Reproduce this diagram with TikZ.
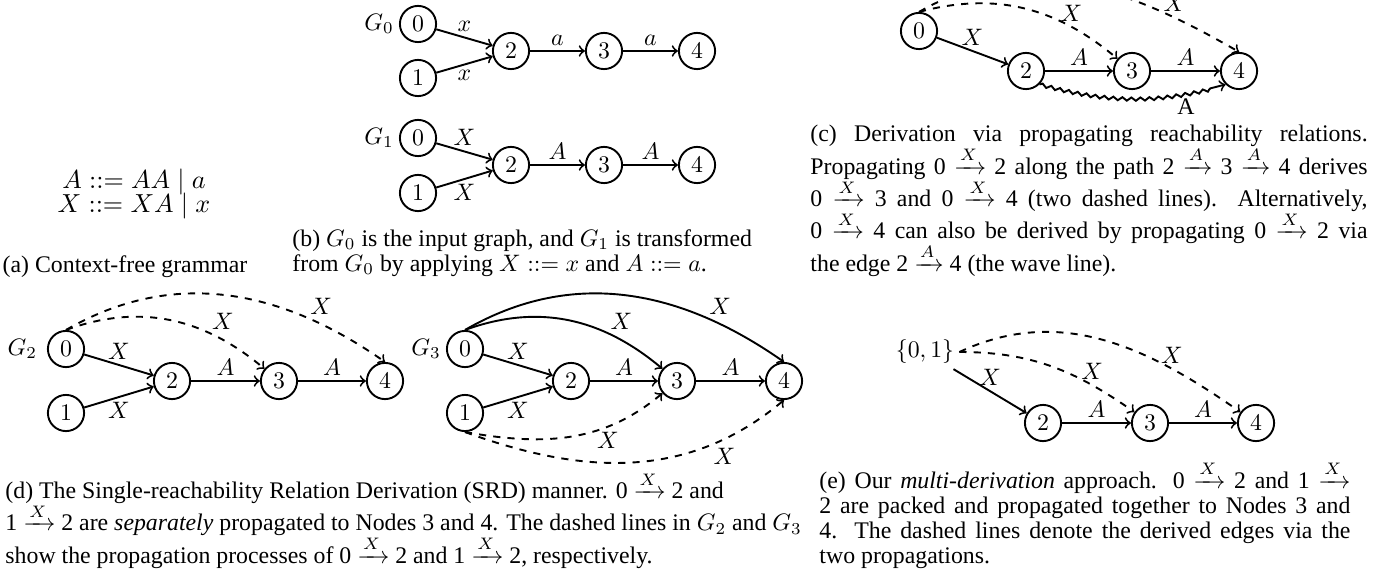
\documentclass[tikz,border=0pt]{standalone}
\usepackage{amsmath}
\usepackage{fontspec}
\setmainfont{Liberation Serif}
\usetikzlibrary{positioning,decorations.pathmorphing}

\newcommand{\capfont}{\fontsize{10}{10.5}\selectfont\setlength{\lineskip}{0pt}}
\newcommand{\gramfont}{\fontsize{10.5}{10.4}\selectfont\setlength{\lineskiplimit}{-10pt}}

\begin{document}
\begin{tikzpicture}[
    x=0.42pt, y=0.42pt,
    state/.style={draw, thick, circle, minimum size=15.2pt, inner sep=0pt},
    edge/.style={->, thick},
    derived/.style={->, thick, dashed},
    wave/.style={->, thick, decorate, decoration={snake, amplitude=0.7pt, segment length=3.8pt, post length=2mm}},
    lab/.style={inner sep=2pt},
    gname/.style={inner sep=1pt},
    subcap/.style={inner sep=0pt, font=\capfont},
]
    \useasboundingbox (0,0) rectangle (1385,-578);
    \clip (0,0) rectangle (1385,-578);

    % --- (a) grammar ---
    \node[align=center, font=\gramfont] (gram) at (134,-194) {$A ::= AA \mid a$\\$X ::= XA \mid x$};
    \node[subcap, anchor=base] (capa) at (125,-272) {(a) Context-free grammar};

    % --- (b) G0 and G1 ---
    \node[state] (u0) at (418,-24) {$0$};
    \node[state] (u1) at (418,-78) {$1$};
    \node[state] (u2) at (511,-51) {$2$};
    \node[state] (u3) at (604,-51) {$3$};
    \node[state] (u4) at (697,-51) {$4$};
    \node[gname, left=1pt of u0] (gu) {$G_0$};

    \draw[edge] (u0) -- (u2) node[midway, above, lab] {$x$};
    \draw[edge] (u1) -- (u2) node[midway, below, lab] {$x$};
    \draw[edge] (u2) -- (u3) node[midway, above, lab] {$a$};
    \draw[edge] (u3) -- (u4) node[midway, above, lab] {$a$};

    \node[state] (v0) at (418,-138) {$0$};
    \node[state] (v1) at (418,-193) {$1$};
    \node[state] (v2) at (511,-165) {$2$};
    \node[state] (v3) at (604,-165) {$3$};
    \node[state] (v4) at (697,-165) {$4$};
    \node[gname, left=1pt of v0] (gv) {$G_1$};

    \draw[edge] (v0) -- (v2) node[midway, above, lab] {$X$};
    \draw[edge] (v1) -- (v2) node[midway, below, lab] {$X$};
    \draw[edge] (v2) -- (v3) node[midway, above, lab] {$A$};
    \draw[edge] (v3) -- (v4) node[midway, above, lab] {$A$};

    \node[subcap, align=left, anchor=south west] (capb) at (292,-277) {(b) $G_0$ is the input graph, and $G_1$ is transformed\\from $G_0$ by applying $X ::= x$ and $A ::= a$.};

    % --- (c) propagation ---
    \node[state] (c0) at (919,-31) {$0$};
    \node[state] (c2) at (1026,-71) {$2$};
    \node[state] (c3) at (1132,-71) {$3$};
    \node[state] (c4) at (1239,-71) {$4$};

    \draw[edge] (c0) -- (c2) node[midway, above, lab] {$X$};
    \draw[edge] (c2) -- (c3) node[midway, above, lab] {$A$};
    \draw[edge] (c3) -- (c4) node[midway, above, lab] {$A$};
    \draw[derived] (c0.north) to[out=15, in=140] node[pos=0.75, above, lab] {$X$} (c3);
    \draw[derived] (c0.north) to[out=30, in=150] node[pos=0.8, above, lab] {$X$} (c4.north);
    \draw[wave] (c2.south east) to[bend right=15] node[pos=0.8, below, lab] {A} (c4.south west);

    \node[subcap, text width=234pt, align=justify, anchor=south west] (capc) at (810,-277) {(c) Derivation via propagating reachability relations.\linebreak
      Propagating 0 $\xrightarrow{X}$ 2 along the path 2 $\xrightarrow{A}$ 3 $\xrightarrow{A}$ 4 derives\linebreak
      0 $\xrightarrow{X}$ 3 and 0 $\xrightarrow{X}$ 4 (two dashed lines). Alternatively,\linebreak
      0 $\xrightarrow{X}$ 4 can also be derived by propagating 0 $\xrightarrow{X}$ 2 via\linebreak
      the edge 2 $\xrightarrow{A}$ 4 (the wave line).};

    % --- (d) SRD: G2 ---
    \node[state] (d0) at (66,-349) {$0$};
    \node[state] (d1) at (66,-413) {$1$};
    \node[state] (d2) at (172,-381) {$2$};
    \node[state] (d3) at (279,-381) {$3$};
    \node[state] (d4) at (385,-381) {$4$};
    \node[gname, left=3pt of d0] (gd) {$G_2$};

    \draw[edge] (d0) -- (d2) node[midway, above, lab] {$X$};
    \draw[edge] (d1) -- (d2) node[midway, below, lab] {$X$};
    \draw[edge] (d2) -- (d3) node[midway, above, lab] {$A$};
    \draw[edge] (d3) -- (d4) node[midway, above, lab] {$A$};
    \draw[derived] (d0.north) to[out=20, in=140] node[pos=0.7, above right, inner sep=1pt] {$X$} (d3);
    \draw[derived] (d0.north) to[out=30, in=145] node[pos=0.75, above right, inner sep=1pt] {$X$} (d4.north);

    % --- (d) SRD: G3 ---
    \node[state] (h0) at (465,-349) {$0$};
    \node[state] (h1) at (465,-413) {$1$};
    \node[state] (h2) at (571,-381) {$2$};
    \node[state] (h3) at (677,-381) {$3$};
    \node[state] (h4) at (784,-381) {$4$};
    \node[gname, left=1pt of h0] (gh) {$G_3$};

    \draw[edge] (h0) -- (h2) node[midway, above, lab] {$X$};
    \draw[edge] (h1) -- (h2) node[midway, below, lab] {$X$};
    \draw[edge] (h2) -- (h3) node[midway, above, lab] {$A$};
    \draw[edge] (h3) -- (h4) node[midway, above, lab] {$A$};
    \draw[edge] (h0.north) to[out=20, in=140] node[pos=0.7, above right, inner sep=1pt] {$X$} (h3);
    \draw[edge] (h0.north) to[out=30, in=145] node[pos=0.75, above right, inner sep=1pt] {$X$} (h4.north);
    \draw[derived] (h1.south) to[out=-10, in=-140] node[pos=0.7, below, lab] {$X$} (h3);
    \draw[derived] (h1.south) to[out=-20, in=-140] node[pos=0.75, below right, inner sep=1pt] {$X$} (h4.south);

    \node[subcap, align=left, anchor=south west] (capd) at (5,-569) {(d) The Single-reachability Relation Derivation (SRD) manner. 0 $\xrightarrow{X}$ 2 and\\
      1 $\xrightarrow{X}$ 2 are \textit{separately} propagated to Nodes 3 and 4. The dashed lines in $G_2$ and $G_3$\\
      show the propagation processes of 0 $\xrightarrow{X}$ 2 and 1 $\xrightarrow{X}$ 2, respectively.};

    % --- (e) multi-derivation ---
    \node[inner sep=2pt] (e0) at (925,-352) {$\{0,1\}$};
    \node[state] (e2) at (1043,-423) {$2$};
    \node[state] (e3) at (1150,-423) {$3$};
    \node[state] (e4) at (1256,-423) {$4$};

    \draw[edge] (e0) -- (e2) node[midway, above, lab] {$X$};
    \draw[edge] (e2) -- (e3) node[midway, above, lab] {$A$};
    \draw[edge] (e3) -- (e4) node[midway, above, lab] {$A$};
    \draw[derived] (e0.east) to[out=0, in=145] node[pos=0.75, above, lab] {$X$} (e3);
    \draw[derived] (e0.east) to[out=25, in=145] node[pos=0.75, above, lab] {$X$} (e4);

    \node[subcap, text width=223pt, align=justify, anchor=south west] (cape) at (819,-569) {(e) Our \textit{multi-derivation} approach. 0 $\xrightarrow{X}$ 2 and 1 $\xrightarrow{X}$\linebreak
      2 are packed and propagated together to Nodes 3 and\linebreak
      4. The dashed lines denote the derived edges via the\linebreak
      two propagations.};

\end{tikzpicture}
\end{document}
